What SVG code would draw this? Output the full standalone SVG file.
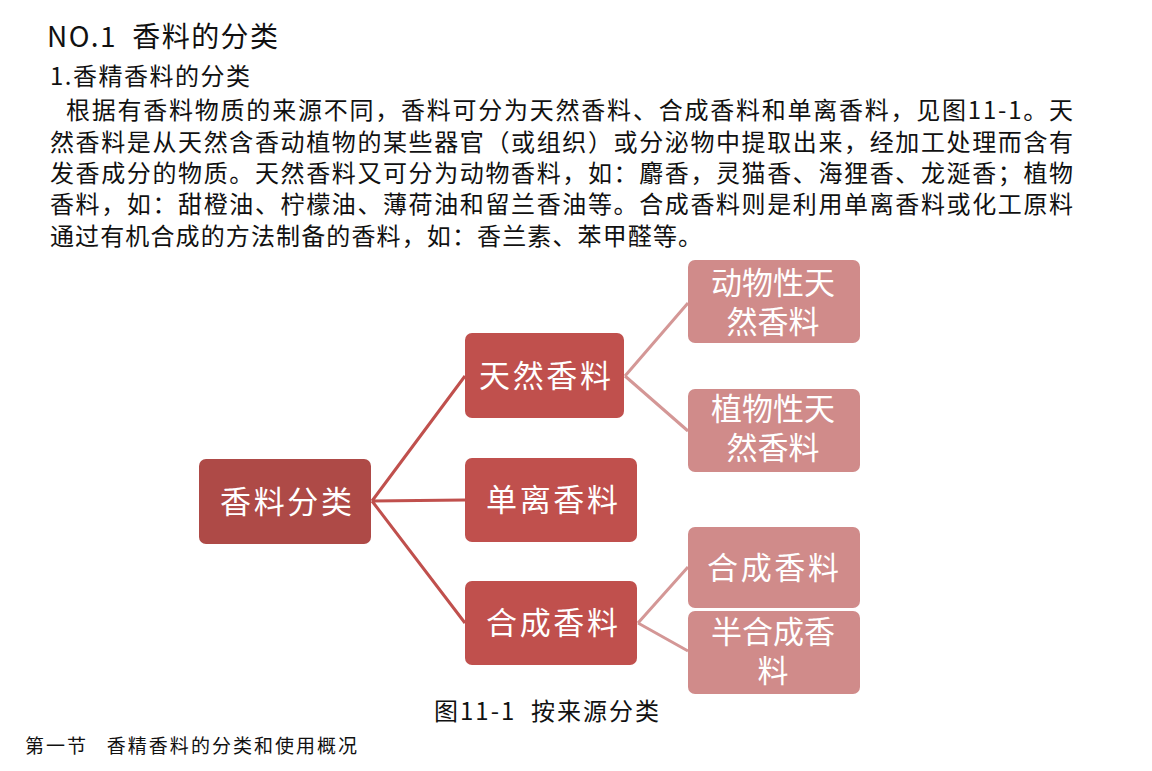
<svg xmlns="http://www.w3.org/2000/svg" width="1152" height="771" viewBox="0 0 1152 771">
<style>
.t{font-family:"Noto Sans CJK SC","Noto Sans",sans-serif;fill:#111;white-space:pre}
.n{font-family:"Noto Sans CJK SC","Noto Sans",sans-serif;fill:#fff;font-size:31px;text-anchor:middle;dominant-baseline:central}
.root{fill:#AE4A47}
.mid{fill:#C0504D}
.leaf{fill:#D08B8A}
.c1{stroke:#C0504D;stroke-width:3;fill:none}
.c2{stroke:#D49796;stroke-width:3;fill:none}
</style>
<rect width="1152" height="771" fill="#fff"/>
<g id="texts">
<text class="t" x="47" y="47" font-size="28" textLength="231" lengthAdjust="spacing" xml:space="preserve">NO.1  香料的分类</text>
<text class="t" x="50" y="85" font-size="24" textLength="200" lengthAdjust="spacing">1.香精香料的分类</text>
<text class="t" x="66" y="119" font-size="24" textLength="1007" lengthAdjust="spacing">根据有香料物质的来源不同，香料可分为天然香料、合成香料和单离香料，见图11-1。天</text>
<text class="t" x="50" y="151" font-size="24" textLength="1023" lengthAdjust="spacing">然香料是从天然含香动植物的某些器官（或组织）或分泌物中提取出来，经加工处理而含有</text>
<text class="t" x="50" y="182" font-size="24" textLength="1023" lengthAdjust="spacing">发香成分的物质。天然香料又可分为动物香料，如：麝香，灵猫香、海狸香、龙涎香；植物</text>
<text class="t" x="50" y="213" font-size="24" textLength="1023" lengthAdjust="spacing">香料，如：甜橙油、柠檬油、薄荷油和留兰香油等。合成香料则是利用单离香料或化工原料</text>
<text class="t" x="50" y="245" font-size="24" textLength="652" lengthAdjust="spacing">通过有机合成的方法制备的香料，如：香兰素、苯甲醛等。</text>
<text class="t" x="434" y="720" font-size="24" textLength="225" lengthAdjust="spacing" xml:space="preserve">图11-1  按来源分类</text>
<text class="t" x="25" y="753" font-size="19" textLength="332" lengthAdjust="spacing" xml:space="preserve">第一节   香精香料的分类和使用概况</text>
</g>
<g id="connectors">
<path class="c1" d="M372 501 L465 376 M372 501 L465 500 M372 501 L465 623"/>
<path class="c2" d="M625 376 L688 303 M625 376 L688 431 M638 623 L688 567 M638 623 L688 651"/>
</g>
<g id="n-root"><rect class="root" x="199" y="459" width="172" height="85" rx="7"/><text class="n" x="286" y="499" textLength="132" lengthAdjust="spacing">香料分类</text></g>
<g id="n-tianran"><rect class="mid" x="465" y="333" width="159" height="85" rx="7"/><text class="n" x="545" y="373" textLength="132" lengthAdjust="spacing">天然香料</text></g>
<g id="n-danli"><rect class="mid" x="465" y="458" width="172" height="84" rx="7"/><text class="n" x="552" y="497" textLength="132" lengthAdjust="spacing">单离香料</text></g>
<g id="n-hecheng"><rect class="mid" x="465" y="581" width="172" height="84" rx="7"/><text class="n" x="552" y="620" textLength="132" lengthAdjust="spacing">合成香料</text></g>
<g id="n-dongwu"><rect class="leaf" x="688" y="260" width="172" height="83" rx="7"/><text class="n"><tspan x="773" y="280">动物性天</tspan><tspan x="773" y="319">然香料</tspan></text></g>
<g id="n-zhiwu"><rect class="leaf" x="688" y="389" width="172" height="83" rx="7"/><text class="n"><tspan x="773" y="406">植物性天</tspan><tspan x="773" y="445">然香料</tspan></text></g>
<g id="n-hecheng2"><rect class="leaf" x="688" y="527" width="172" height="81" rx="7"/><text class="n" x="773" y="565" textLength="132" lengthAdjust="spacing">合成香料</text></g>
<g id="n-banhecheng"><rect class="leaf" x="688" y="611" width="172" height="83" rx="7"/><text class="n"><tspan x="773" y="629">半合成香</tspan><tspan x="773" y="668">料</tspan></text></g>
</svg>
